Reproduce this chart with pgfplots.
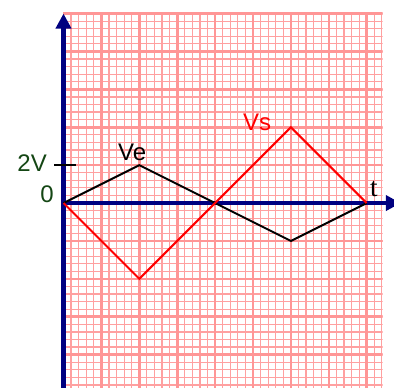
\documentclass[border=0pt]{standalone}
\usepackage{pgfplots}
\pgfplotsset{compat=1.18}
\usepackage{fontspec}
\setmainfont{Liberation Sans}
\newfontfamily\seriffont{Liberation Serif}
\usetikzlibrary{arrows.meta}
\definecolor{gridpink}{RGB}{255,150,150}
\definecolor{gridminor}{RGB}{255,160,160}
\definecolor{navyaxis}{RGB}{0,0,128}
\definecolor{darkgreen}{RGB}{20,70,20}
\begin{document}
\begin{tikzpicture}
\useasboundingbox (-63.5pt,0pt) rectangle (330.5pt,388pt);
% graph-paper grid (decoration)
\begin{scope}
\clip (-2pt,0pt) rectangle (319pt,375.5pt);
\foreach \i in {0,...,42} \draw[gridminor, line width=1.2pt] (\i*7.58pt,0pt) -- (\i*7.58pt,376pt);
\foreach \k in {-24,...,25} \draw[gridminor, line width=1.2pt] (0pt,184.95pt+\k*7.58pt) -- (320pt,184.95pt+\k*7.58pt);
\foreach \i in {1,...,8} \draw[gridpink, line width=2.6pt] (\i*37.9pt,0pt) -- (\i*37.9pt,376pt);
\foreach \k in {-4,...,5} \draw[gridpink, line width=2.6pt] (0pt,184.95pt+\k*37.9pt) -- (320pt,184.95pt+\k*37.9pt);
\end{scope}
\begin{axis}[
  at={(0pt,0pt)}, anchor=south west,
  scale only axis, width=318.36pt, height=374.45pt,
  xmin=0, xmax=8.4, ymin=-4.88, ymax=5,
  clip=false,
  hide axis,
]
\draw[navyaxis, line width=4.5pt, -{Triangle[length=15pt,width=15pt]}] (axis cs:0,-4.95) -- (axis cs:0,5);
\draw[navyaxis, line width=4.5pt, -{Triangle[length=15pt,width=15pt]}] (axis cs:-0.06,0) -- (axis cs:8.9,0);
\draw[black, line width=1.5pt] (axis cs:-0.244,1) -- (axis cs:0.32,1);
\addplot[black, line width=2pt] coordinates {(0,0) (2,1) (6,-1) (8,0)};
\addplot[red, line width=2pt] coordinates {(0,0) (2,-2) (6,2) (8,0)};
\node[anchor=base east, inner sep=0pt, text=darkgreen, font=\fontsize{24}{28}\selectfont] at (axis cs:-0.435,0.831) {2V};
\node[anchor=base east, inner sep=0pt, text=darkgreen, font=\fontsize{24}{28}\selectfont] at (axis cs:-0.25,0.013) {0};
\node[anchor=base west, inner sep=0pt, text=black, font=\fontsize{24}{28}\selectfont] at (axis cs:1.438,1.135) {Ve};
\node[anchor=base west, inner sep=0pt, text=red, font=\fontsize{24}{28}\selectfont] at (axis cs:4.736,1.908) {Vs};
\node[anchor=base west, inner sep=0pt, text=black, font=\seriffont\fontsize{27}{30}\selectfont] at (axis cs:8.087,0.185) {t};
\end{axis}
\end{tikzpicture}
\end{document}
